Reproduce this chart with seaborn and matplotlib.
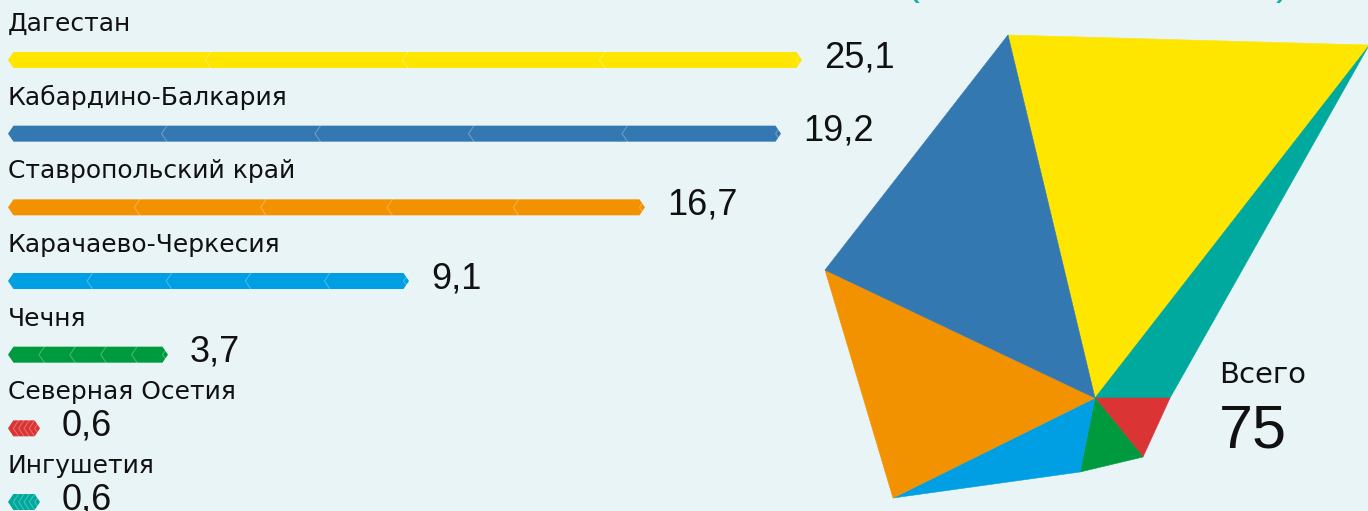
import numpy as np
import pandas as pd
import seaborn as sns
import matplotlib.pyplot as plt
from matplotlib.patches import Polygon

sns.set_theme(style='white')
plt.rcParams['font.family'] = ['Liberation Sans', 'DejaVu Sans']

BG = '#E9F4F7'
LABEL_FONT = ['DejaVu Sans']

regions = ['Дагестан', 'Кабардино-Балкария', 'Ставропольский край',
           'Карачаево-Черкесия', 'Чечня', 'Северная Осетия', 'Ингушетия']
values = [25.1, 19.2, 16.7, 9.1, 3.7, 0.6, 0.6]
value_labels = ['25,1', '19,2', '16,7', '9,1', '3,7', '0,6', '0,6']
# drawn bar lengths (track units, 0..100)
bar_lengths = [79.4, 77.3, 63.7, 40.1, 16.0, 3.2, 3.2]
segments = [4, 5, 5, 5, 5, 5, 5]
colors = ['#FFE600', '#3478B2', '#F39200', '#009FE3', '#009A3E', '#DA3434', '#00A99D']
total = '75'

# decorative polygon "pie": centre and rim points, in picture pixels
pie_center = (1095, 398)
pie_rim = [(1008, 35), (1368, 45), (1368, 47), (1170, 398), (1143, 457),
           (1080, 472), (893, 498), (825, 270), (1008, 35)]
# which colour fills the wedge between rim point k and k+1
pie_order = [0, None, 6, 5, 4, 3, 2, 1]

fig = plt.figure(figsize=(13.68, 5.11), dpi=100, facecolor=BG)

# pixel-space layer for the polygon and the total
bg = fig.add_axes([0, 0, 1, 1])
bg.set_xlim(0, 1368)
bg.set_ylim(511, 0)
bg.axis('off')
bg.patch.set_alpha(0)

for k, ci in enumerate(pie_order):
    p0, p1 = pie_rim[k], pie_rim[k + 1]
    col = colors[ci] if ci is not None else colors[0]
    bg.fill([pie_center[0], p0[0], p1[0]], [pie_center[1], p0[1], p1[1]],
            color=col, lw=0.4, ec=col)

bg.text(1219, 383, 'Всего', fontsize=21, color='#111111', va='baseline',
        family=LABEL_FONT)
bg.text(1219, 447, total, fontsize=44, color='#111111', va='baseline')
bg.text(905, -6, '(', fontsize=30, color='#1AAFA5', va='baseline')
bg.text(1276, -6, ')', fontsize=30, color='#1AAFA5', va='baseline')

# bar layer: track from x=8px, 10 px per unit
ax = fig.add_axes([8 / 1368, 0, 1000 / 1368, 1])
df = pd.DataFrame({'region': regions, 'length': bar_lengths})
sns.barplot(data=df, x='length', y='region', hue='region', palette=colors,
            orient='h', width=16 / 73.67, legend=False, ax=ax)
ax.set_xlim(0, 100)
ax.set_ylim(6 + 9 / 73.67, -60 / 73.67)
ax.axis('off')
ax.patch.set_alpha(0)

tip = 0.55
patches = sorted(ax.patches, key=lambda p: p.get_y())
for i, p in enumerate(patches):
    x0, y0, w, h = p.get_x(), p.get_y(), p.get_width(), p.get_height()
    x1, y1, yc = x0 + w, y0 + h, y0 + h / 2
    p.set_visible(False)
    t = min(tip, w / 6)
    hexa = Polygon([(x0 + t, y0), (x1 - t, y0), (x1, yc), (x1 - t, y1),
                    (x0 + t, y1), (x0, yc)], closed=True,
                   fc=colors[i], ec='none')
    ax.add_patch(hexa)
    seg = (w - t) / segments[i]
    for k in range(1, segments[i] + 1):
        xb = x0 + k * seg
        ax.plot([xb + t, xb, xb + t], [y0, yc, y1], color='white',
                alpha=0.3, lw=0.7, solid_joinstyle='miter')
    ax.text(0, i - 29 / 73.67, regions[i], fontsize=18, color='#111111',
            va='baseline', ha='left', family=LABEL_FONT)
    ax.text(x1 + 2.2, i + 7.3 / 73.67, value_labels[i], fontsize=26,
            color='#111111', va='baseline', ha='left')

fig.savefig('out.png', dpi=100, facecolor=BG)
